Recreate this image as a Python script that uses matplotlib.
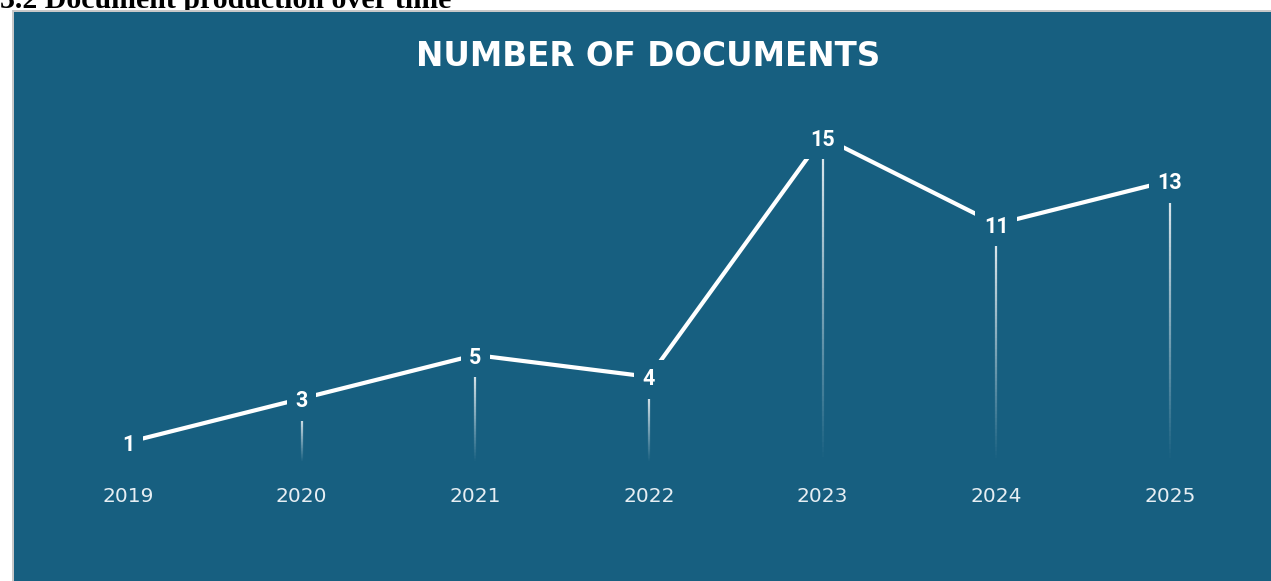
import numpy as np
import matplotlib
matplotlib.use("Agg")
import matplotlib.pyplot as plt
from matplotlib.collections import LineCollection
from matplotlib.patches import Rectangle

# ---- data ----
years = ["2019", "2020", "2021", "2022", "2023", "2024", "2025"]
counts = [1, 3, 5, 4, 15, 11, 13]
title = "NUMBER OF DOCUMENTS"
heading = "3.2 Document production over time"

W, H = 1271, 581
PANEL = "#175f80"

fig = plt.figure(figsize=(W / 100, H / 100), dpi=100)
fig.patch.set_facecolor("white")

# heading (partly hidden under the panel, as in the reference)
fig.text(0 / W, 1 - 8 / H, heading, family="Liberation Serif", fontweight="bold",
         fontsize=21.5, color="black", ha="left", va="baseline", zorder=-5)

# panel border
fig.patches.append(Rectangle((12 / W, 0), 1, (H - 10) / H, transform=fig.transFigure,
                             facecolor="#c8c8c8", edgecolor="none", zorder=-1))

ax = fig.add_axes([14 / W, 0, (W - 14) / W, (H - 12) / H])
ax.set_facecolor(PANEL)
for s in ax.spines.values():
    s.set_visible(False)
ax.set_xticks([])
ax.set_yticks([])

x = np.arange(len(years))
ax.set_xlim(-0.6564, 6.5815)
ax.set_ylim(-5.367, 20.734)

# main line
ax.plot(x, counts, color="white", lw=3.0, solid_capstyle="butt", zorder=2)

# fading drop lines
for xi, v in zip(x, counts):
    top = v - 0.83
    bot = 0.09
    if top <= bot:
        top = bot + 0.08
    n = 60
    ys = np.linspace(top, bot, n + 1)
    segs = [[(xi, ys[k]), (xi, ys[k + 1])] for k in range(n)]
    alphas = np.linspace(0.85, 0.0, n)
    cols = [(1, 1, 1, a) for a in alphas]
    ax.add_collection(LineCollection(segs, colors=cols, linewidths=1.6, zorder=2))

# value labels
for xi, v in zip(x, counts):
    ax.text(xi, v, str(v), family="Roboto", fontweight="bold", fontsize=15.5,
            color="white", ha="center", va="center_baseline", zorder=4,
            bbox=dict(boxstyle="square,pad=0.4", facecolor=PANEL, edgecolor="none"))

# year labels
for xi, yl in zip(x, years):
    ax.text(xi, -1.47, yl, family="DejaVu Sans", fontsize=14.5, color="#e6eef3",
            ha="center", va="center", zorder=4)

# title
fig.text(648 / W, 1 - 56 / H, title, family="DejaVu Sans", fontweight="bold",
         fontsize=23.5, color="white", ha="center", va="center", zorder=5)

fig.savefig("out.png", dpi=100, facecolor="white")
